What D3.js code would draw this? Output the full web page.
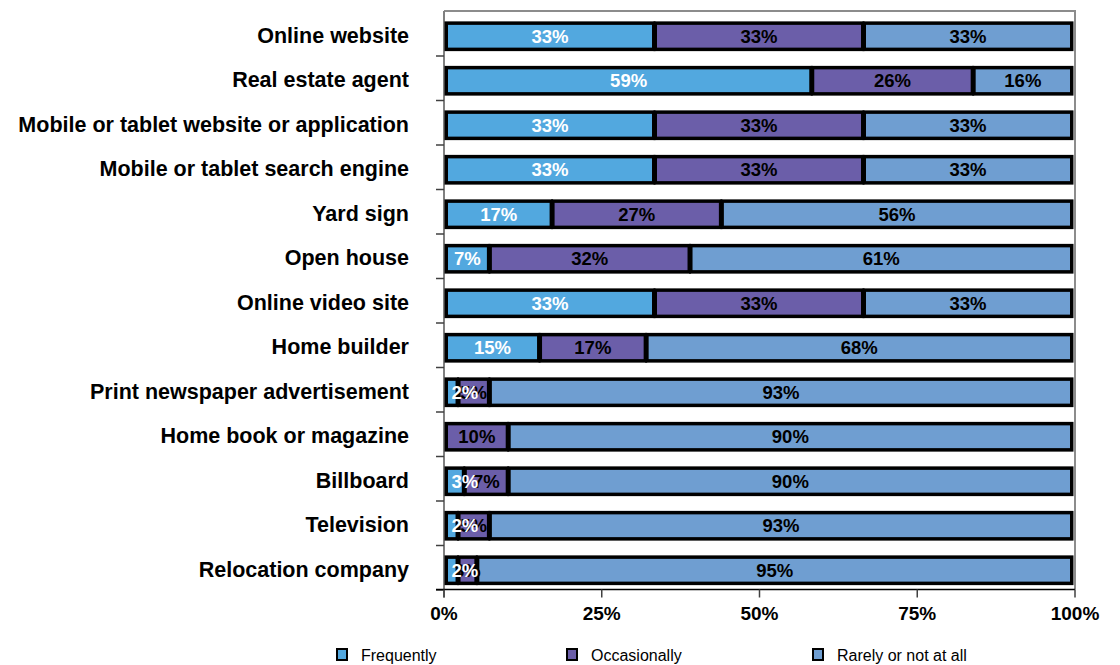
<!DOCTYPE html>
<html>
<head>
<meta charset="utf-8">
<script src="https://cdn.jsdelivr.net/npm/d3@7"></script>
<style>
  html, body { margin: 0; padding: 0; background: #fff; }
  svg { display: block; font-family: "Liberation Sans", Arial, sans-serif; }
</style>
</head>
<body>
<svg id="chart" width="1120" height="665"></svg>
<script>
// Sources of information, share of responses per usage frequency
const categories = [
  "Online website",
  "Real estate agent",
  "Mobile or tablet website or application",
  "Mobile or tablet search engine",
  "Yard sign",
  "Open house",
  "Online video site",
  "Home builder",
  "Print newspaper advertisement",
  "Home book or magazine",
  "Billboard",
  "Television",
  "Relocation company"
];
const frequently   = [33, 59, 33, 33, 17,  7, 33, 15,  2,  0,  3,  2,  2];
const occasionally = [33, 26, 33, 33, 27, 32, 33, 17,  5, 10,  7,  5,  3];
const rarely       = [33, 16, 33, 33, 56, 61, 33, 68, 93, 90, 90, 93, 95];
const seriesNames  = ["Frequently", "Occasionally", "Rarely or not at all"];
const tickValues   = [0, 0.25, 0.5, 0.75, 1];

const colors     = ["#52a8df", "#6b5ea9", "#6f9ed1"];
const labelColor = ["#ffffff", "#000000", "#000000"];

const svg = d3.select("#chart");
const plot = { left: 444, right: 1075, top: 11, bottom: 589.5 };

const x = d3.scaleLinear().domain([0, 1]).range([445.5, 1072.5]);
const xAxisScale = d3.scaleLinear().domain([0, 1]).range([444, 1075]);
const y = d3.scaleBand().domain(categories).range([11.5, 590]).paddingInner(0.41).paddingOuter(0.205);
const yOuter = d3.scaleBand().domain(categories).range([11.5, 590]);

// plot frame (top and right)
svg.append("path")
  .attr("d", `M${plot.left},${plot.top}H${plot.right}V${plot.bottom}`)
  .attr("fill", "none").attr("stroke", "#8c8c8c").attr("stroke-width", 2);

// left category axis: gray line with ticks at band boundaries
const yEdges = categories.map(c => yOuter(c)).concat([yOuter.range()[1]]);
svg.append("line")
  .attr("x1", plot.left).attr("x2", plot.left)
  .attr("y1", plot.top).attr("y2", plot.bottom + 8)
  .attr("stroke", "#808080").attr("stroke-width", 2);
svg.selectAll(".ytick").data(yEdges.slice(1)).join("line")
  .attr("class", "ytick")
  .attr("x1", plot.left - 8).attr("x2", plot.left)
  .attr("y1", d => d).attr("y2", d => d)
  .attr("stroke", "#404040").attr("stroke-width", 1.5);

// category labels
svg.selectAll(".ylab").data(categories).join("text")
  .attr("class", "ylab")
  .attr("x", 409)
  .attr("y", c => yOuter(c) + yOuter.bandwidth() / 2 + 9)
  .attr("text-anchor", "end")
  .attr("font-size", 21.5).attr("font-weight", "bold").attr("fill", "#000")
  .text(c => c);

// stacked 100% bars
const rows = categories.map((c, i) => {
  const vals = [frequently[i], occasionally[i], rarely[i]];
  const total = d3.sum(vals);
  let acc = 0;
  return vals.map((v, s) => {
    const seg = { cat: c, s, v, x0: acc / total, x1: (acc + v) / total };
    acc += v;
    return seg;
  });
});
const segs = rows.flat();
const barOffset = 2.5;
const inset = 0.75;

svg.append("g").selectAll("rect").data(segs.filter(d => d.v > 0)).join("rect")
  .attr("x", d => x(d.x0) + inset)
  .attr("y", d => y(d.cat) + barOffset)
  .attr("width", d => Math.max(0.5, x(d.x1) - x(d.x0) - 2 * inset))
  .attr("height", y.bandwidth())
  .attr("fill", d => colors[d.s])
  .attr("stroke", "#000").attr("stroke-width", 3.5);

// value labels: rarely, then occasionally, then frequently on top
const labelG = svg.append("g");
[2, 1, 0].forEach(s => {
  const data = segs.filter(d => d.s === s && d.v > 0);
  labelG.selectAll(".lab" + s).data(data).join("text")
    .attr("class", "lab" + s)
    .attr("font-size", 18.5).attr("font-weight", "bold")
    .attr("fill", labelColor[s])
    .attr("text-anchor", "middle")
    .attr("y", d => y(d.cat) + barOffset + y.bandwidth() / 2 + 6.5)
    .text(d => d.v + "%")
    .attr("x", function(d) {
      const w = this.getComputedTextLength();
      const center = (x(d.x0) + x(d.x1)) / 2;
      return Math.max(center, x(0) + 6 + w / 2);
    });
});

// bottom value axis
svg.append("line")
  .attr("x1", plot.left - 8).attr("x2", plot.right)
  .attr("y1", plot.bottom).attr("y2", plot.bottom)
  .attr("stroke", "#000").attr("stroke-width", 1.5);
svg.selectAll(".xtick").data(tickValues).join("line")
  .attr("class", "xtick")
  .attr("x1", d => xAxisScale(d)).attr("x2", d => xAxisScale(d))
  .attr("y1", plot.bottom).attr("y2", plot.bottom + 8)
  .attr("stroke", "#404040").attr("stroke-width", 1.5);
svg.selectAll(".xlab").data(tickValues).join("text")
  .attr("class", "xlab")
  .attr("x", d => xAxisScale(d))
  .attr("y", 620)
  .attr("text-anchor", "middle")
  .attr("font-size", 19).attr("font-weight", "bold").attr("fill", "#000")
  .text(d => d3.format(".0%")(d));

// legend
const legendX = [336, 566, 812];
const lg = svg.append("g").selectAll("g").data(seriesNames).join("g")
  .attr("transform", (d, i) => `translate(${legendX[i]},648)`);
lg.append("rect")
  .attr("x", 1).attr("y", 1).attr("width", 10).attr("height", 11)
  .attr("fill", (d, i) => colors[i]).attr("stroke", "#000").attr("stroke-width", 2);
lg.append("text")
  .attr("x", 25).attr("y", 13)
  .attr("font-size", 16).attr("fill", "#000")
  .text(d => d);
</script>
</body>
</html>
